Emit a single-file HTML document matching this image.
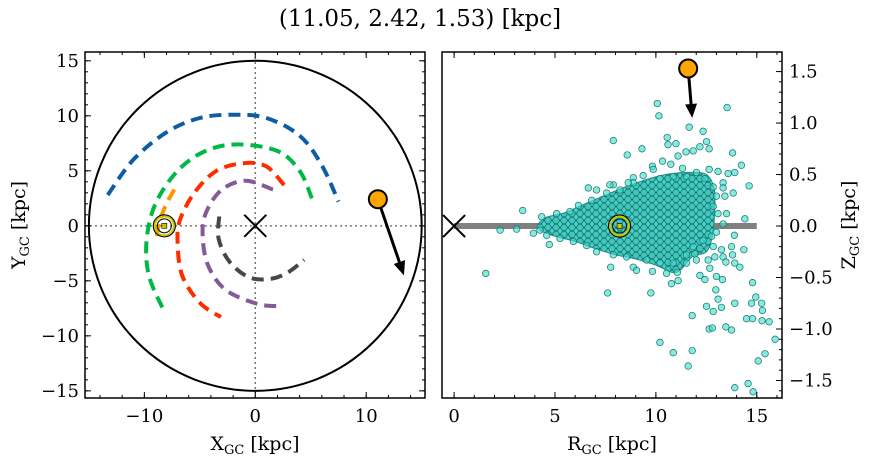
<!DOCTYPE html>
<html><head><meta charset="utf-8"><style>
body{margin:0;background:#fff;}
svg{display:block;font-family:"DejaVu Serif","Liberation Serif",serif;}
</style></head><body>
<svg id="fig" width="874" height="464" viewBox="0 0 874 464" xmlns="http://www.w3.org/2000/svg">
<defs>
<pattern id="corePat" width="8" height="7" patternUnits="userSpaceOnUse">
<rect width="8" height="7" fill="#27a8a2"/>
<circle cx="0" cy="0" r="3.3" fill="#48d6ca" stroke="#1a6662" stroke-width="0.7"/>
<circle cx="8" cy="0" r="3.3" fill="#48d6ca" stroke="#1a6662" stroke-width="0.7"/>
<circle cx="0" cy="7" r="3.3" fill="#48d6ca" stroke="#1a6662" stroke-width="0.7"/>
<circle cx="8" cy="7" r="3.3" fill="#48d6ca" stroke="#1a6662" stroke-width="0.7"/>
<circle cx="4" cy="3.5" r="3.3" fill="#3cc8bf" stroke="#1a6662" stroke-width="0.7"/>
</pattern>
</defs>
<text x="420" y="26" font-size="23" text-anchor="middle">(11.05, 2.42, 1.53) [kpc]</text>
<g id="left"></g>
<g id="right"></g>
</svg>
<script>
// ---- left panel data ----
const armBlue = [[-13.3,2.8],[-11,6],[-8,8.5],[-5,9.8],[-2,10.1],[1,9.8],[4,8.2],[6,5.5],[7.5,2.2]];
const armGreen = [[5.1,2.5],[4,5],[2,6.8],[-1.6,7.4],[-4.5,6.8],[-7,5],[-9,2],[-9.8,-1.3],[-9.6,-4.5],[-8.35,-7.5]];
const armRed = [[2.6,3.7],[1,5.4],[-1,5.7],[-3.5,5],[-5.5,3],[-6.8,0.5],[-7,-1.5],[-6.6,-4.5],[-5,-7],[-3.1,-8.3]];
const armPurple = [[1.6,3.3],[-0.85,4.1],[-3,3.3],[-4.4,1.3],[-4.75,-0.7],[-4.3,-3.5],[-2.7,-5.8],[0.2,-7.1],[2.2,-7.3]];
const armGray = [[-3.25,0.85],[-3.3,-1.2],[-2.3,-3.3],[-0.5,-4.7],[1.5,-4.8],[3,-4.2],[4.4,-3.1]];
const armOrange = [[-7.3,3.3],[-8,2],[-8.6,0.5],[-8.9,-1]];
const sunXY = [-8.2,0];
const targetXY = [11.05,2.42];
const arrowXYEnd = [13.4,-4.5];
const leftXTicks = [-10,0,10];
const leftYTicks = [-15,-10,-5,0,5,10,15];
// ---- right panel data ----
const coreTop = [[4.1,0],[4.5,0.08],[5.5,0.13],[6.3,0.2],[7.5,0.3],[8.5,0.38],[9.5,0.45],[10.5,0.5],[11.5,0.52],[12.5,0.5],[12.9,0.35],[12.9,0.1]];
const coreBottom = [[12.8,-0.1],[12.5,-0.25],[11.8,-0.3],[11,-0.45],[10,-0.38],[9,-0.32],[8,-0.28],[7,-0.22],[6,-0.15],[5,-0.1],[4.3,-0.05]];
const starR = [10.07,10.15,13.53,11.65,12.34,7.89,10.56,10.6,10.99,9.31,8.58,12.18,12.51,12.64,13.8,14.24,11.49,11.85,11.1,10.33,10.74,9.83,11.32,12.01,12.64,13.08,13.58,13.91,14.62,14.41,13.89,13.5,13.42,13.83,13.33,6.65,7.06,8.88,7.89,3.4,2.28,3.1,3.93,4.72,1.57,7.61,9.75,7.76,8.88,9.04,9.83,10.53,10.77,11.1,11.06,11.52,11.93,12.01,12.18,12.43,12.67,12.59,12.92,13.25,13.33,13.75,13.8,13.47,13.91,14.16,14.36,13.0,13.3,12.97,13.08,13.25,12.51,12.84,13.91,14.79,14.95,15.24,14.74,15.28,11.8,12.64,12.8,13.47,13.75,14.49,14.79,15.26,15.61,15.91,10.2,10.86,11.8,11.6,15.41,15.07,13.91,14.57,14.82,9.37,9.87,10.2,10.86,11.52,12.43,12.84,13.33,13.0,12.84,13.08,13.33,13.0,12.76,12.84,12.34,11.85,11.52,10.86,10.2,9.54,8.55,7.89,7.06,6.57,5.91,5.25,4.59,4.26,4.34,5.08,5.74,6.16,6.82,7.56,8.22,8.88,7.72,8.63];
const starZ = [1.19,1.07,1.15,0.96,0.92,0.83,0.86,0.79,0.8,0.75,0.69,0.77,0.82,0.75,0.71,0.59,0.72,0.73,0.68,0.63,0.6,0.58,0.56,0.52,0.55,0.53,0.51,0.52,0.39,0.07,-0.09,0.12,0.29,0.32,0.42,0.37,0.35,0.47,0.4,0.15,-0.04,-0.03,-0.07,-0.18,-0.46,-0.65,-0.65,-0.4,-0.4,-0.43,-0.44,-0.46,-0.56,-0.53,-0.45,-0.36,-0.27,-0.33,-0.48,-0.52,-0.41,-0.33,-0.3,-0.23,-0.3,-0.2,-0.28,-0.35,-0.36,-0.4,-0.23,-0.49,-0.52,-0.62,-0.71,-0.79,-0.78,-0.83,-0.75,-0.55,-0.69,-0.75,-0.75,-0.82,-0.87,-1.0,-0.99,-0.98,-1.01,-0.9,-0.9,-0.92,-0.93,-1.1,-1.13,-1.23,-1.21,-1.36,-1.24,-1.31,-1.57,-1.53,-1.61,0.49,0.55,0.46,0.48,0.48,0.46,0.38,0.37,0.29,0.19,0.12,0.02,-0.06,-0.1,-0.2,-0.14,-0.2,-0.28,-0.36,-0.36,-0.33,-0.3,-0.28,-0.25,-0.19,-0.15,-0.12,-0.09,-0.04,0.09,0.12,0.14,0.2,0.25,0.32,0.35,0.42,0.4,0.42];
const sunRZ = [8.2,0];
const targetRZ = [11.6,1.53];
const arrowRZEnd = [11.8,1.05];
const rightXTicks = [0,5,10,15];
const rightYTicks = [-1.5,-1.0,-0.5,0.0,0.5,1.0,1.5];

const NS="http://www.w3.org/2000/svg";
function mk(parent,tag,attrs){const e=document.createElementNS(NS,tag);for(const k in attrs)e.setAttribute(k,attrs[k]);parent.appendChild(e);return e;}

const L={x0:85,x1:425,y0:52,y1:398,xmin:-15.35,xmax:15.3,ymin:-15.65,ymax:15.8};
const lx=v=>L.x0+(v-L.xmin)/(L.xmax-L.xmin)*(L.x1-L.x0);
const ly=v=>L.y1-(v-L.ymin)/(L.ymax-L.ymin)*(L.y1-L.y0);
const R={x0:442,x1:782,y0:52,y1:398,xmin:-0.6,xmax:16.25,ymin:-1.67,ymax:1.69};
const rx=v=>R.x0+(v-R.xmin)/(R.xmax-R.xmin)*(R.x1-R.x0);
const ry=v=>R.y1-(v-R.ymin)/(R.ymax-R.ymin)*(R.y1-R.y0);

const gl=document.getElementById('left');
const gr=document.getElementById('right');

function smoothPath(pts){
  let d='M'+pts[0][0].toFixed(1)+','+pts[0][1].toFixed(1);
  for(let i=0;i<pts.length-1;i++){
    const p0=pts[Math.max(i-1,0)],p1=pts[i],p2=pts[i+1],p3=pts[Math.min(i+2,pts.length-1)];
    const c1=[p1[0]+(p2[0]-p0[0])/6,p1[1]+(p2[1]-p0[1])/6];
    const c2=[p2[0]-(p3[0]-p1[0])/6,p2[1]-(p3[1]-p1[1])/6];
    d+=`C${c1[0].toFixed(1)},${c1[1].toFixed(1)} ${c2[0].toFixed(1)},${c2[1].toFixed(1)} ${p2[0].toFixed(1)},${p2[1].toFixed(1)}`;
  }
  return d;
}

let e;
e=mk(gl,'line',{x1:lx(0),x2:lx(0),y1:L.y0,y2:L.y1,stroke:'#777','stroke-width':1.5,'stroke-dasharray':'2,3'});


e=mk(gl,'line',{x1:L.x0,x2:L.x1,y1:ly(0),y2:ly(0),stroke:'#777','stroke-width':1.5,'stroke-dasharray':'2,3'});


e=mk(gl,'ellipse',{cx:lx(0),cy:ly(0),rx:lx(15)-lx(0),ry:ly(0)-ly(15),fill:'none',stroke:'#000','stroke-width':2});


const arms=[[armBlue,'#0c5da5','arm-blue'],[armGreen,'#00b945','arm-green'],[armRed,'#ff2c00','arm-red'],[armPurple,'#845b97','arm-purple'],[armGray,'#474747','arm-gray'],[armOrange,'#ff9500','arm-orange']];
arms.forEach(a=>{
  const d=smoothPath(a[0].map(p=>[lx(p[0]),ly(p[1])]));
  const p=mk(gl,'path',{d:d,fill:'none',stroke:a[1],'stroke-width':4,'stroke-dasharray':'12,7'});
  
  
});
function cross(g,cx,cy,name){
  const c=mk(g,'path',{d:`M${cx-11},${cy-11}L${cx+11},${cy+11}M${cx-11},${cy+11}L${cx+11},${cy-11}`,stroke:'#000','stroke-width':2,fill:'none'});
  
  
}
cross(gl,lx(0),ly(0),'galactic-center-marker');
function sun(g,cx,cy){
  const s=mk(g,'g',{});
  
  
  mk(s,'circle',{cx:cx,cy:cy,r:11,fill:'none',stroke:'#000','stroke-width':1.2});
  mk(s,'circle',{cx:cx,cy:cy,r:9.5,fill:'none',stroke:'#c8c800','stroke-width':2});
  mk(s,'circle',{cx:cx,cy:cy,r:7,fill:'none',stroke:'#000','stroke-width':1});
  mk(s,'rect',{x:cx-2.5,y:cy-2.5,width:5,height:5,fill:'#c8c800',stroke:'#000','stroke-width':0.6});
}
sun(gl,lx(sunXY[0]),ly(sunXY[1]));
function arrow(g,x1,y1,x2,y2,name){
  const ang=Math.atan2(y2-y1,x2-x1);
  const hl=14,hw=6;
  const bx=x2-hl*Math.cos(ang),by=y2-hl*Math.sin(ang);
  const a=mk(g,'g',{});
  
  
  mk(a,'line',{x1:x1,y1:y1,x2:bx,y2:by,stroke:'#000','stroke-width':3});
  mk(a,'polygon',{points:`${x2},${y2} ${bx-hw*Math.sin(ang)},${by+hw*Math.cos(ang)} ${bx+hw*Math.sin(ang)},${by-hw*Math.cos(ang)}`,fill:'#000'});
}
arrow(gl,lx(targetXY[0]),ly(targetXY[1]),lx(arrowXYEnd[0]),ly(arrowXYEnd[1]),'velocity-arrow-xy');
e=mk(gl,'circle',{cx:lx(targetXY[0]),cy:ly(targetXY[1]),r:9,fill:'#ffa500',stroke:'#000','stroke-width':2});



// right content
e=mk(gr,'line',{x1:rx(0),x2:rx(15),y1:ry(0),y2:ry(0),stroke:'#808080','stroke-width':6});


const coreD=smoothPath(coreTop.concat(coreBottom).map(p=>[rx(p[0]),ry(p[1])]))+'Z';
e=mk(gr,'path',{d:coreD,fill:'url(#corePat)',stroke:'#1f8a85','stroke-width':1});


const sg=mk(gr,'g',{});


starR.forEach((r,i)=>{
  const c=mk(sg,'circle',{cx:rx(r),cy:ry(starZ[i]),r:3.3,fill:'rgba(64,224,208,0.65)',stroke:'#1d6e6a','stroke-width':0.7});
  
  
});
cross(gr,rx(0),ry(0),'galactic-center-marker-rz');
sun(gr,rx(sunRZ[0]),ry(sunRZ[1]));
arrow(gr,rx(targetRZ[0]),ry(targetRZ[1]),rx(arrowRZEnd[0]),ry(arrowRZEnd[1]),'velocity-arrow-rz');
e=mk(gr,'circle',{cx:rx(targetRZ[0]),cy:ry(targetRZ[1]),r:9,fill:'#ffa500',stroke:'#000','stroke-width':2});



function frame(g,A,fx,fy,xt,yt,xminor,yminor,xfmt,yfmt,yside,xlab,ylab,leftTicks){
  const f=mk(g,'rect',{x:A.x0,y:A.y0,width:A.x1-A.x0,height:A.y1-A.y0,fill:'none',stroke:'#000','stroke-width':1.5});
  
  
  const tg=mk(g,'g',{stroke:'#000','stroke-width':1});
  for(let v=Math.ceil(A.xmin/xminor)*xminor;v<=A.xmax;v+=xminor){
    const x=fx(v);
    mk(tg,'line',{x1:x,x2:x,y1:A.y1,y2:A.y1-3});
    mk(tg,'line',{x1:x,x2:x,y1:A.y0,y2:A.y0+3});
  }
  for(let v=Math.ceil(A.ymin/yminor)*yminor;v<=A.ymax+1e-9;v+=yminor){
    const y=fy(v);
    if(leftTicks)mk(tg,'line',{x1:A.x0,x2:A.x0+3,y1:y,y2:y});
    mk(tg,'line',{x1:A.x1,x2:A.x1-3,y1:y,y2:y});
  }
  xt.forEach(v=>{
    const x=fx(v);
    mk(tg,'line',{x1:x,x2:x,y1:A.y1,y2:A.y1-6});
    mk(tg,'line',{x1:x,x2:x,y1:A.y0,y2:A.y0+6});
    const t=mk(g,'text',{x:x,y:A.y1+24,'font-size':18,'text-anchor':'middle'});
    t.textContent=xfmt(v);
    
    
  });
  yt.forEach(v=>{
    const y=fy(v);
    if(leftTicks)mk(tg,'line',{x1:A.x0,x2:A.x0+6,y1:y,y2:y});
    mk(tg,'line',{x1:A.x1,x2:A.x1-6,y1:y,y2:y});
    const t=yside==='left'?mk(g,'text',{x:A.x0-6,y:y+6,'font-size':18,'text-anchor':'end'}):mk(g,'text',{x:A.x1+7,y:y+6,'font-size':18,'text-anchor':'start'});
    t.textContent=yfmt(v);
    
    
  });
  const xl=mk(g,'text',{x:(A.x0+A.x1)/2,y:A.y1+52,'font-size':19,'text-anchor':'middle'});
  xl.innerHTML=xlab[0]+'<tspan font-size="13" dy="4">GC</tspan><tspan dy="-4"> [kpc]</tspan>';
  
  
  const yx=yside==='left'?A.x0-60:A.x1+73;
  const yl=mk(g,'text',{x:yx,y:(A.y0+A.y1)/2,'font-size':19,'text-anchor':'middle',transform:`rotate(-90 ${yx} ${(A.y0+A.y1)/2})`});
  yl.innerHTML=ylab[0]+'<tspan font-size="13" dy="4">GC</tspan><tspan dy="-4"> [kpc]</tspan>';
  
  
}
const minus=s=>String(s).replace('-','\u2212');
frame(gl,L,lx,ly,leftXTicks,leftYTicks,2,1,v=>minus(v),v=>minus(v),'left',['X'],['Y'],true);
frame(gr,R,rx,ry,rightXTicks,rightYTicks,1,0.1,v=>String(v),v=>minus(v.toFixed(1)),'right',['R'],['Z'],false);
</script>
</body></html>
